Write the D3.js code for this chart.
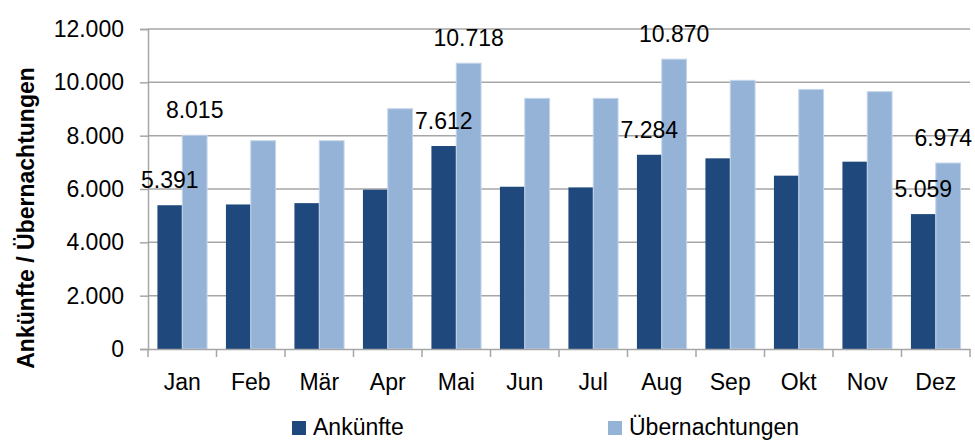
<!DOCTYPE html>
<html>
<head>
<meta charset="utf-8">
<script src="https://cdn.jsdelivr.net/npm/d3@7"></script>
<style>
  body { margin: 0; background: #fff; }
  text { font-family: "Liberation Sans", Arial, sans-serif; fill: #000; }
</style>
</head>
<body>
<div id="chart"></div>
<script>
  // chart values
  const months = ["Jan", "Feb", "Mär", "Apr", "Mai", "Jun", "Jul", "Aug", "Sep", "Okt", "Nov", "Dez"];
  const ankuenfte = [5391, 5420, 5470, 5975, 7612, 6085, 6060, 7284, 7150, 6500, 7025, 5059];
  const uebernachtungen = [8015, 7810, 7810, 9010, 10718, 9400, 9400, 10870, 10075, 9735, 9650, 6974];
  const labelled = ["Jan", "Mai", "Aug", "Dez"];
  const yTicks = [0, 2000, 4000, 6000, 8000, 10000, 12000];
  const seriesNames = ["Ankünfte", "Übernachtungen"];
  const colors = ["#1f497d", "#95b3d7"];

  const width = 975;
  const height = 440;
  const margin = { top: 29, right: 5, bottom: 91, left: 148 };

  const svg = d3.select("#chart")
    .append("svg")
    .attr("width", width)
    .attr("height", height);

  const x = d3.scaleBand()
    .domain(months)
    .range([margin.left, width - margin.right])
    .paddingInner(0)
    .paddingOuter(0);

  const xInner = d3.scaleBand()
    .domain([0, 1])
    .range([0, x.bandwidth()])
    .paddingOuter(0.38);

  const y = d3.scaleLinear()
    .domain([0, 12000])
    .range([height - margin.bottom, margin.top]);

  const fmt = v => d3.format(",")(v).replace(/,/g, ".");

  // gridlines
  svg.append("g")
    .selectAll("line")
    .data(yTicks.slice(1))
    .enter()
    .append("line")
    .attr("x1", margin.left)
    .attr("x2", width - margin.right)
    .attr("y1", d => y(d))
    .attr("y2", d => y(d))
    .attr("stroke", "#a6a6a6")
    .attr("stroke-width", 1.5);

  // y axis
  const yAxis = svg.append("g")
    .attr("transform", `translate(${margin.left},0)`)
    .call(d3.axisLeft(y).tickValues(yTicks).tickSize(8).tickPadding(16).tickFormat(fmt));
  yAxis.select(".domain").attr("stroke", "#a6a6a6").attr("stroke-width", 1.5);
  yAxis.selectAll(".tick line").attr("stroke", "#a6a6a6").attr("stroke-width", 1.5);
  yAxis.selectAll(".tick text")
    .style("font-size", "23px")
    .style("font-family", "'Liberation Sans', Arial, sans-serif")
    .attr("fill", "#000");

  // bars
  const series = [ankuenfte, uebernachtungen];
  series.forEach((vals, i) => {
    svg.append("g")
      .selectAll("rect")
      .data(months.map((m, j) => ({ month: m, value: vals[j] })))
      .enter()
      .append("rect")
      .attr("x", d => x(d.month) + xInner(i))
      .attr("y", d => y(d.value))
      .attr("width", xInner.bandwidth())
      .attr("height", d => y(0) - y(d.value))
      .attr("fill", colors[i])
      .attr("stroke", i === 1 ? "#c5d5ea" : "none")
      .attr("stroke-width", 1);
  });

  // value labels, drawn on top of all bars
  series.forEach((vals, i) => {
    svg.append("g")
      .selectAll("text")
      .data(months.map((m, j) => ({ month: m, value: vals[j] })).filter(d => labelled.includes(d.month)))
      .enter()
      .append("text")
      .attr("x", d => x(d.month) + xInner(i) + xInner.bandwidth() / 2)
      .attr("y", d => y(d.value) - 17)
      .attr("text-anchor", "middle")
      .style("font-size", "23px")
      .text(d => fmt(d.value))
      .each(function() {
        // keep the label inside the picture
        const half = this.getComputedTextLength() / 2;
        const cx = +this.getAttribute("x");
        if (cx + half > width - 3) this.setAttribute("x", width - 3 - half);
      });
  });

  // x axis
  const xAxis = svg.append("g")
    .attr("transform", `translate(0,${y(0)})`)
    .call(d3.axisBottom(x).tickSize(0).tickPadding(25));
  xAxis.select(".domain").attr("stroke", "#a6a6a6").attr("stroke-width", 1.5);
  xAxis.selectAll(".tick text")
    .style("font-size", "23px")
    .style("font-family", "'Liberation Sans', Arial, sans-serif")
    .attr("fill", "#000");

  // x tick marks between categories
  svg.append("g")
    .selectAll("line")
    .data(months.concat(["end"]))
    .enter()
    .append("line")
    .attr("x1", (d, i) => i < months.length ? x(d) : x.range()[1])
    .attr("x2", (d, i) => i < months.length ? x(d) : x.range()[1])
    .attr("y1", y(0))
    .attr("y2", y(0) + 8)
    .attr("stroke", "#a6a6a6")
    .attr("stroke-width", 1.5);

  // y axis title
  svg.append("text")
    .attr("transform", `translate(34,218) rotate(-90)`)
    .attr("text-anchor", "middle")
    .style("font-size", "23px")
    .style("font-weight", "bold")
    .text("Ankünfte / Übernachtungen");

  // legend
  const legendX = [292, 608];
  seriesNames.forEach((name, i) => {
    svg.append("rect")
      .attr("x", legendX[i])
      .attr("y", 421)
      .attr("width", 14)
      .attr("height", 14)
      .attr("fill", colors[i]);
    svg.append("text")
      .attr("x", legendX[i] + 21)
      .attr("y", 435)
      .style("font-size", "23px")
      .text(name);
  });
</script>
</body>
</html>
